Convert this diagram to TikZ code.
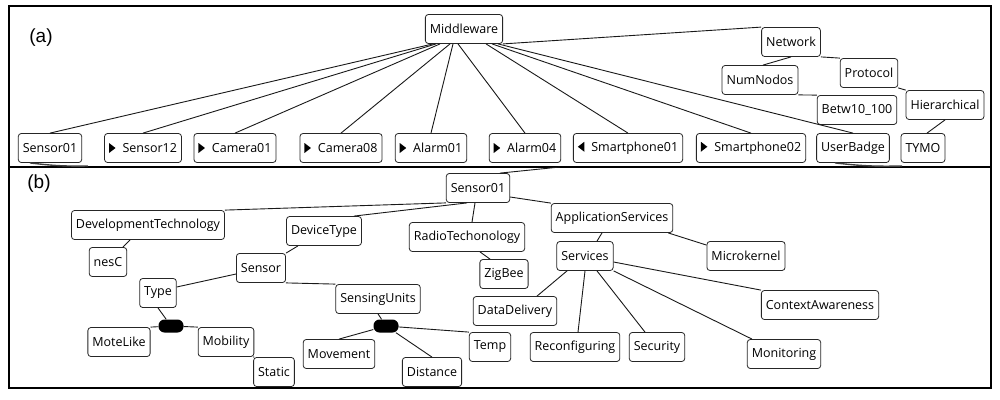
\documentclass[tikz,border=0pt]{standalone}
\usepackage{fontspec}
\setmainfont{Open Sans}
\newfontfamily\labelfont{Liberation Sans}
\usepackage{tikz}
\usetikzlibrary{arrows.meta,positioning,calc}
\newcommand{\triR}{\tikz[baseline=0.5pt,sharp corners]\fill (0pt,0pt) -- (0pt,10pt) -- (6.5pt,5pt) -- cycle;\hspace{7pt}}
\newcommand{\triL}{\tikz[baseline=0.5pt,sharp corners]\fill (6.5pt,0pt) -- (6.5pt,10pt) -- (0pt,5pt) -- cycle;\hspace{7pt}}
\tikzset{
  fm/feature/.style={draw=black!85, line width=0.8pt, rounded corners=3pt, fill=white, font=\fontsize{12.5}{14}\selectfont, minimum height=29pt, inner xsep=4.5pt, inner ysep=2pt, align=center},
  fm/group/.style={fill=black, rounded corners=6pt, minimum width=25pt, minimum height=13pt, inner sep=0pt},
  fm/edge/.style={line width=0.9pt, black!90},
  fm/stub/.style={line width=1.4pt, black!75},
  fm/panel/.style={line width=1.4pt},
  fm/tag/.style={font=\labelfont\fontsize{19}{22}\selectfont, inner sep=0pt}
}
\begin{document}
\begin{tikzpicture}[x=1pt,y=-1pt]
  \useasboundingbox (0,0) rectangle (1000,399);
  \draw[fm/panel] (9,6) rectangle (991,167);
  \draw[fm/panel] (9,167) rectangle (991,388);
  \node[fm/tag] (taga) at (41,38) {(a)};
  \node[fm/tag] (tagb) at (39,184) {(b)};

  % (a) middleware level
  \node[fm/feature] (mw) at (464,29) {Middleware};
  \node[fm/feature] (net) at (791,42) {Network};
  \node[fm/feature] (prot) at (869,73) {Protocol};
  \node[fm/feature] (nn) at (760,80) {NumNodos};
  \node[fm/feature] (hier) at (945,105) {Hierarchical};
  \node[fm/feature] (betw) at (857,110) {Betw10\_100};

  \node[fm/feature] (s01) at (50,148) {Sensor01};
  \node[fm/feature] (s12) at (143,148) {\triR Sensor12};
  \node[fm/feature] (cam01) at (235,148) {\triR Camera01};
  \node[fm/feature] (cam08) at (341,148) {\triR Camera08};
  \node[fm/feature] (al01) at (431,148) {\triR Alarm01};
  \node[fm/feature] (al04) at (525,148) {\triR Alarm04};
  \node[fm/feature] (sp01) at (628,148) {\triL Smartphone01};
  \node[fm/feature] (sp02) at (751,148) {\triR Smartphone02};
  \node[fm/feature] (ub) at (853,148) {UserBadge};
  \node[fm/feature] (tymo) at (923,148) {TYMO};

  \foreach \t/\dx in {s01/-31,s12/-28,cam01/-24,cam08/-14,al01/-11,al04/-6,sp01/22,sp02/28,ub/34}
    \draw[fm/edge] ([xshift=\dx pt]mw.south) -- (\t.north);
  \draw[fm/edge] (mw.south east) -- (net.north west);
  \draw[fm/edge] (net.south) -- ([xshift=3pt]nn.north);
  \draw[fm/edge] (net.south east) -- (prot.north west);
  \draw[fm/edge] (nn.south east) -- (betw.north west);
  \draw[fm/edge] (prot.south east) -- (hier.north west);
  \draw[fm/edge] (hier.south) -- ([xshift=4pt]tymo.north);

  % cut connectors below the first panel
  \coordinate (cuta) at (88,166);
  \coordinate (cutb) at (902,166);
  \draw[fm/stub] ([xshift=-20pt]s01.south) to[bend right=4] (cuta);
  \draw[fm/stub] ([xshift=-18pt]ub.south) to[bend right=4] (cutb);

  % (b) Sensor01 level
  \node[fm/feature] (sb) at (478,188) {Sensor01};
  \node[fm/feature] (dt) at (148,225) {DevelopmentTechnology};
  \node[fm/feature] (nesc) at (108,262) {nesC};
  \node[fm/feature] (dtype) at (324,231) {DeviceType};
  \node[fm/feature] (rt) at (467,237) {RadioTechonology};
  \node[fm/feature] (app) at (612,218) {ApplicationServices};
  \node[fm/feature] (zb) at (504,274) {ZigBee};
  \node[fm/feature] (serv) at (585,256) {Services};
  \node[fm/feature] (mk) at (746,256) {Microkernel};
  \node[fm/feature] (sensor) at (261,268) {Sensor};
  \node[fm/feature] (type) at (158,293) {Type};
  \node[fm/feature] (su) at (378,299) {SensingUnits};
  \node[fm/feature] (dd) at (515,311) {DataDelivery};
  \node[fm/feature] (ca) at (820,305) {ContextAwareness};
  \node[fm/group] (g1) at (171,326) {};
  \node[fm/group] (g2) at (386,326) {};
  \node[fm/feature] (mote) at (119,342) {MoteLike};
  \node[fm/feature] (mob) at (226,342) {Mobility};
  \node[fm/feature] (mov) at (339,354) {Movement};
  \node[fm/feature] (temp) at (490,347) {Temp};
  \node[fm/feature] (rec) at (575,347) {Reconfiguring};
  \node[fm/feature] (sec) at (657,347) {Security};
  \node[fm/feature] (mon) at (784,354) {Monitoring};
  \node[fm/feature] (stat) at (274,372) {Static};
  \node[fm/feature] (dist) at (432,372) {Distance};

  \coordinate (cutc) at (560,167);
  \draw[fm/edge] ([xshift=22pt]sb.north) -- (cutc);
  \draw[fm/edge] (sb.south west) -- (dt.north east);
  \draw[fm/edge] ([xshift=-11pt]sb.south) -- ([xshift=-8pt]dtype.north east);
  \draw[fm/edge] ([xshift=-3pt]sb.south) -- ([xshift=5pt]rt.north);
  \draw[fm/edge] ([yshift=-9pt]sb.east) -- (app.north west);
  \draw[fm/edge] ([xshift=-18pt]dt.south) -- ([xshift=15pt]nesc.north);
  \draw[fm/edge] ([xshift=-26pt]dtype.south) -- (sensor.north east);
  \draw[fm/edge] ([yshift=-6pt]sensor.west) -- ([yshift=6pt]type.east);
  \draw[fm/edge] (sensor.south east) -- (su.north west);
  \draw[fm/edge] (type.south) -- (g1);
  \draw[fm/edge] (g1) -- (mote.north east);
  \draw[fm/edge] (g1) -- (mob.north west);
  \draw[fm/edge] (mob.south east) -- (stat.north west);
  \draw[fm/edge] (su.south) -- (g2);
  \draw[fm/edge] (g2) -- (mov.north);
  \draw[fm/edge] (g2) -- (dist.north);
  \draw[fm/edge] (g2) -- (temp.north west);
  \draw[fm/edge] ([xshift=13pt]rt.south) -- ([xshift=-14pt]zb.north);
  \draw[fm/edge] ([xshift=-10pt]app.south) -- ([xshift=12pt]serv.north);
  \draw[fm/edge] ([xshift=-5pt]app.south east) -- ([yshift=-4pt]mk.north west);
  \draw[fm/edge] ([xshift=-18pt]serv.south) -- ([xshift=22pt]dd.north);
  \draw[fm/edge] (serv.south) -- ([xshift=3pt]rec.north);
  \draw[fm/edge] ([xshift=12pt]serv.south) -- ([xshift=-12pt]sec.north);
  \draw[fm/edge] (serv.south east) -- ([xshift=-32pt]mon.north);
  \draw[fm/edge] ([yshift=-6pt]serv.east) -- (ca.north west);
\end{tikzpicture}
\end{document}
